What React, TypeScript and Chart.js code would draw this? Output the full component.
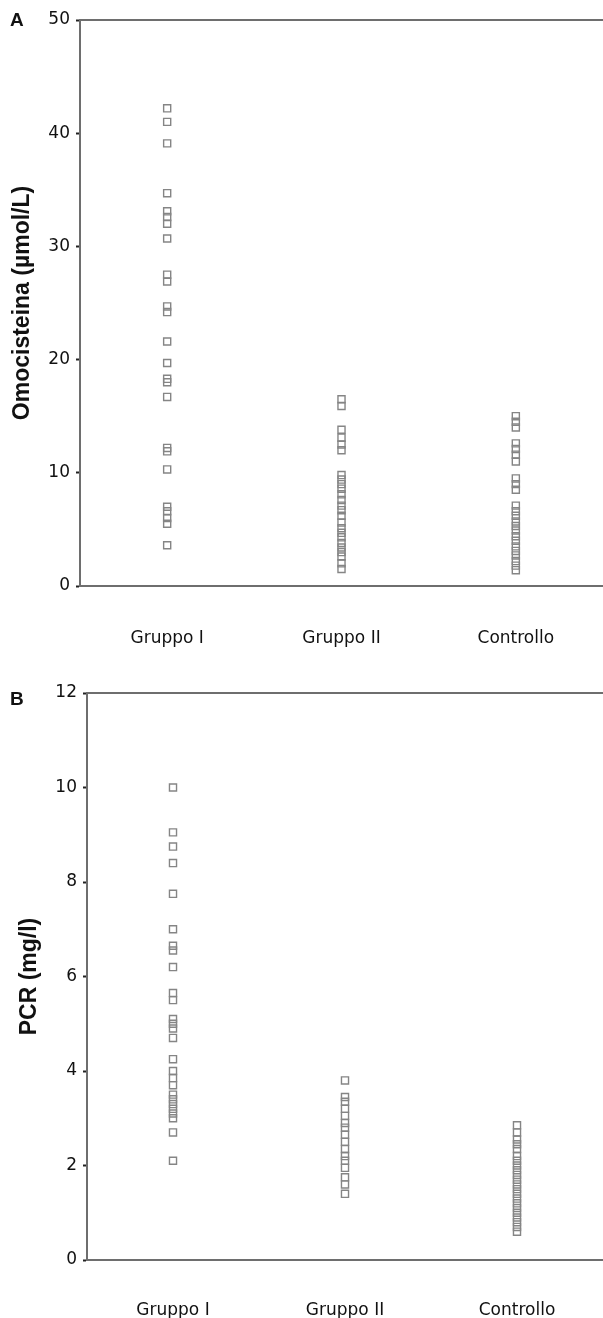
import React, { useEffect, useRef } from 'react';
import { Chart, registerables } from 'chart.js';

Chart.register(...registerables);

// ---- Data ----
const categories = ['Gruppo I', 'Gruppo II', 'Controllo'];

// Panel A: Omocisteina (µmol/L)
const homGroupI = [42.2, 41.0, 39.1, 34.7, 33.1, 32.6, 32.0, 30.7, 27.5, 26.9, 24.7, 24.2, 21.6, 19.7, 18.3, 18.0, 16.7, 12.2, 11.9, 10.3, 7.0, 6.6, 6.0, 5.5, 3.6];
const homGroupII = [16.5, 15.9, 13.8, 13.1, 12.5, 12.0, 9.8, 9.4, 9.0, 8.6, 8.1, 7.6, 7.1, 6.7, 6.2, 5.6, 5.1, 4.7, 4.3, 3.8, 3.4, 3.0, 2.6, 2.0, 1.5];
const homControl = [15.0, 14.5, 14.0, 12.6, 12.1, 11.6, 11.0, 9.5, 9.0, 8.5, 7.1, 6.6, 6.2, 5.7, 5.3, 4.9, 4.4, 4.0, 3.5, 3.1, 2.7, 2.2, 1.8, 1.4];
const homTicks = [0, 10, 20, 30, 40, 50];

// Panel B: PCR (mg/l)
const crpGroupI = [10.0, 9.05, 8.75, 8.4, 7.75, 7.0, 6.65, 6.55, 6.2, 5.65, 5.5, 5.1, 5.0, 4.9, 4.7, 4.25, 4.0, 3.85, 3.7, 3.5, 3.4, 3.3, 3.2, 3.1, 3.0, 2.7, 2.1];
const crpGroupII = [3.8, 3.45, 3.35, 3.2, 3.05, 2.9, 2.8, 2.65, 2.5, 2.35, 2.2, 2.1, 1.95, 1.75, 1.6, 1.4];
const crpControl = [2.85, 2.7, 2.55, 2.45, 2.35, 2.2, 2.1, 2.0, 1.9, 1.8, 1.7, 1.6, 1.5, 1.4, 1.3, 1.2, 1.1, 1.0, 0.9, 0.8, 0.7, 0.6];
const crpTicks = [0, 2, 4, 6, 8, 10, 12];

const toPoints = (cat: string, values: number[]) => values.map((v) => ({ x: cat, y: v }));

const topLinePlugin = {
  id: 'topLine',
  afterDraw(chart: any) {
    const { ctx, chartArea } = chart;
    ctx.save();
    ctx.strokeStyle = '#6e6e6e';
    ctx.lineWidth = 2;
    ctx.beginPath();
    ctx.moveTo(chartArea.left - 1, chartArea.top);
    ctx.lineTo(chartArea.right, chartArea.top);
    ctx.stroke();
    ctx.restore();
  },
};

type PanelProps = {
  top: number;
  height: number;
  axisLeft: number;
  plotTop: number;
  plotBottom: number;
  yTitle: string;
  titlePad: number;
  series: number[][];
  ticks: number[];
  xPad: number;
};

function Panel(p: PanelProps) {
  const ref = useRef<HTMLCanvasElement>(null);
  useEffect(() => {
    if (!ref.current) return;
    const tickFont = { family: 'DejaVu Sans', size: 17 };
    const chart = new Chart(ref.current, {
      type: 'scatter',
      data: {
        labels: categories,
        datasets: p.series.map((vals, i) => ({
          data: toPoints(categories[i], vals) as any,
          pointStyle: 'rect',
          pointRadius: 5,
          pointBorderWidth: 1.4,
          borderColor: '#858585',
          backgroundColor: 'rgba(0,0,0,0)',
          showLine: false,
        })),
      },
      options: {
        animation: false,
        responsive: false,
        maintainAspectRatio: false,
        layout: { autoPadding: false, padding: { top: p.plotTop, right: 0, left: 0, bottom: 0 } },
        plugins: { legend: { display: false }, tooltip: { enabled: false } },
        scales: {
          x: {
            type: 'category',
            offset: true,
            grid: { display: false, drawTicks: false },
            border: { display: true, color: '#6e6e6e', width: 2 },
            ticks: { color: '#111', font: tickFont, padding: p.xPad, maxRotation: 0 },
            afterFit: (s: any) => {
              s.height = p.height - p.plotBottom;
            },
          },
          y: {
            type: 'linear',
            min: p.ticks[0],
            max: p.ticks[p.ticks.length - 1],
            afterBuildTicks: (s: any) => {
              s.ticks = p.ticks.map((v) => ({ value: v }));
            },
            grid: {
              drawOnChartArea: false,
              drawTicks: true,
              tickLength: 4,
              tickWidth: 2,
              tickColor: '#222',
            },
            border: { display: true, color: '#6e6e6e', width: 2 },
            ticks: { color: '#111', font: tickFont, padding: 6 },
            title: {
              display: true,
              text: p.yTitle,
              color: '#111',
              font: { family: 'Liberation Sans', size: 23, weight: 'bold' },
              padding: { top: p.titlePad, bottom: 0 },
            },
            afterFit: (s: any) => {
              s.width = p.axisLeft;
            },
          },
        },
      },
      plugins: [topLinePlugin],
    });
    return () => chart.destroy();
  }, []);
  return (
    <div style={{ position: 'absolute', left: 0, top: p.top, width: 603, height: p.height }}>
      <canvas ref={ref} width={603} height={p.height} style={{ width: 603, height: p.height, display: 'block' }} />
    </div>
  );
}

export default function App() {
  const letter: React.CSSProperties = {
    position: 'absolute',
    left: 10,
    fontFamily: 'Liberation Sans, Arial, sans-serif',
    fontWeight: 'bold',
    fontSize: 19,
    lineHeight: '19px',
    color: '#111',
  };
  return (
    <div style={{ position: 'absolute', left: 0, top: 0, width: 603, height: 1318, background: '#fff' }}>
      <Panel
        top={0}
        height={655}
        axisLeft={80}
        plotTop={20}
        plotBottom={586}
        yTitle="Omocisteina (µmol/L)"
        titlePad={9}
        series={[homGroupI, homGroupII, homControl]}
        ticks={homTicks}
        xPad={42}
      />
      <Panel
        top={655}
        height={663}
        axisLeft={87}
        plotTop={38}
        plotBottom={605}
        yTitle="PCR (mg/l)"
        titlePad={16}
        series={[crpGroupI, crpGroupII, crpControl]}
        ticks={crpTicks}
        xPad={40}
      />
      <div style={{ ...letter, top: 10 }}>A</div>
      <div style={{ ...letter, top: 689 }}>B</div>
    </div>
  );
}
